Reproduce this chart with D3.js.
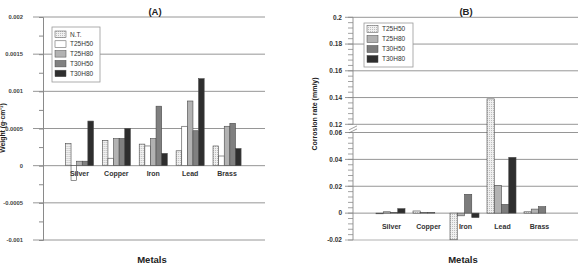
<!DOCTYPE html>
<html>
<head>
<meta charset="utf-8">
<script src="https://cdn.jsdelivr.net/npm/d3@7"></script>
<style>
  body { margin: 0; background: #fff; }
  svg { display: block; font-family: "Liberation Sans", Arial, sans-serif; }
</style>
</head>
<body>
<div id="chart"></div>
<script>
// DATA
const metals = ["Silver", "Copper", "Iron", "Lead", "Brass"];

// panel A: weight change
const seriesA = ["N.T.", "T25H50", "T25H80", "T30H50", "T30H80"];
const ntA     = [0.0003, 0.00034, 0.00029, 0.0002, 0.000265];
const t25h50A = [-0.0002, 0.0001, 0.000265, 0.00053, 0.00013];
const t25h80A = [0.00006, 0.000365, 0.000365, 0.00087, 0.00053];
const t30h50A = [0.00006, 0.000365, 0.0008, 0.00047, 0.00057];
const t30h80A = [0.0006, 0.0005, 0.000165, 0.00117, 0.00023];
const ticksA = [-0.001, -0.0005, 0, 0.0005, 0.001, 0.0015, 0.002];

// panel B: corrosion rate
const seriesB = ["T25H50", "T25H80", "T30H50", "T30H80"];
const t25h50B = [-0.0005, 0.0016, -0.0198, 0.139, 0.001];
const t25h80B = [0.001, 0.0004, -0.002, 0.0207, 0.003];
const t30h50B = [0.0005, 0.0005, 0.014, 0.0065, 0.0048];
const t30h80B = [0.0033, 0, -0.0033, 0.0415, 0];
const ticksBLow = [-0.02, 0, 0.02, 0.04, 0.06];
const ticksBHigh = [0.12, 0.14, 0.16, 0.18, 0.2];

const width = 578;
const height = 263;
const gridColor = "#8a8a8a";
const barStroke = "#4a4a4a";

const fillsA = ["url(#dots)", "#ffffff", "#b2b2b2", "#808080", "#2e2e2e"];
const fillsB = ["url(#dots)", "#b2b2b2", "#7c7c7c", "#2e2e2e"];

const svg = d3.select("#chart")
  .append("svg")
  .attr("width", width)
  .attr("height", height);

// dotted fill for the lightest series
const pat = svg.append("defs").append("pattern")
  .attr("id", "dots")
  .attr("width", 2).attr("height", 2)
  .attr("patternUnits", "userSpaceOnUse");
pat.append("rect").attr("width", 2).attr("height", 2).attr("fill", "#f0f0f0");
pat.append("rect").attr("width", 1).attr("height", 1).attr("fill", "#bdbdbd");

const rows = (cols) => metals.map((m, i) => ({ metal: m, values: cols.map((c) => c[i]) }));

// ---------- PANEL A ----------
const a = { left: 43, right: 265 };
const yA = d3.scaleLinear().domain([-0.001, 0.002]).range([240, 17]);
const xA = d3.scaleBand().domain(metals).range([61, 245.5]).paddingInner(0.24).paddingOuter(0.12);
const xA1 = d3.scaleBand().domain(seriesA).range([0, xA.bandwidth()]);

const gA = svg.append("g");

// gridlines
gA.selectAll(".gridA")
  .data(ticksA)
  .enter()
  .append("line")
  .attr("x1", a.left - 10)
  .attr("x2", a.right)
  .attr("y1", (d) => yA(d))
  .attr("y2", (d) => yA(d))
  .attr("stroke", gridColor)
  .attr("stroke-width", 0.9);

// left axis with minor ticks
const axisA = d3.axisLeft(yA)
  .tickValues(d3.range(-0.001, 0.00201, 0.00025))
  .tickSize(4)
  .tickFormat("");
gA.append("g")
  .attr("transform", `translate(${a.left},0)`)
  .call(axisA)
  .call((g) => g.select(".domain").attr("stroke", gridColor))
  .call((g) => g.selectAll(".tick line").attr("stroke", gridColor));

gA.selectAll(".tickA")
  .data(ticksA)
  .enter()
  .append("text")
  .attr("x", 23)
  .attr("y", (d) => yA(d))
  .attr("dy", "0.35em")
  .attr("text-anchor", "end")
  .style("font-size", "5.8px")
  .style("font-weight", "bold")
  .attr("fill", "#444")
  .text((d) => (d === 0 ? "0" : String(+d.toFixed(4))));

// bars
const groupsA = gA.selectAll(".grpA")
  .data(rows([ntA, t25h50A, t25h80A, t30h50A, t30h80A]))
  .enter()
  .append("g")
  .attr("transform", (d) => `translate(${xA(d.metal)},0)`);

groupsA.selectAll("rect")
  .data((d) => d.values.map((v, i) => ({ key: seriesA[i], value: v, i: i })))
  .enter()
  .append("rect")
  .attr("x", (d) => xA1(d.key))
  .attr("width", xA1.bandwidth())
  .attr("y", (d) => yA(Math.max(0, d.value)))
  .attr("height", (d) => Math.abs(yA(d.value) - yA(0)))
  .attr("fill", (d) => fillsA[d.i])
  .attr("stroke", barStroke)
  .attr("stroke-width", 0.6);

gA.selectAll(".catA")
  .data(metals)
  .enter()
  .append("text")
  .attr("x", (d) => xA(d) + xA.bandwidth() / 2)
  .attr("y", yA(0) + 10)
  .attr("text-anchor", "middle")
  .style("font-size", "7px")
  .style("font-weight", "bold")
  .attr("fill", "#333")
  .text((d) => d);

// legend A
const legA = gA.append("g").attr("transform", "translate(52,27)");
legA.append("rect")
  .attr("width", 48).attr("height", 55)
  .attr("fill", "#fff").attr("stroke", "#999").attr("stroke-width", 0.8);
seriesA.forEach((s, i) => {
  legA.append("rect")
    .attr("x", 3).attr("y", 4 + i * 9.8)
    .attr("width", 11).attr("height", 6.5)
    .attr("fill", fillsA[i]).attr("stroke", barStroke).attr("stroke-width", 0.5);
  legA.append("text")
    .attr("x", 18).attr("y", 7.3 + i * 9.8)
    .attr("dy", "0.35em")
    .style("font-size", "6.5px")
    .attr("fill", "#333")
    .text(s);
});

gA.append("text")
  .attr("x", 155).attr("y", 15)
  .attr("text-anchor", "middle")
  .style("font-size", "9.5px").style("font-weight", "bold")
  .attr("fill", "#222")
  .text("(A)");

gA.append("text")
  .attr("x", 152).attr("y", 262.5)
  .attr("text-anchor", "middle")
  .style("font-size", "9.5px").style("font-weight", "bold")
  .attr("fill", "#222")
  .text("Metals");

gA.append("text")
  .attr("transform", "translate(5,128) rotate(-90)")
  .attr("text-anchor", "middle")
  .style("font-size", "6.8px").style("font-weight", "bold")
  .attr("fill", "#222")
  .text("Weight (g·cm⁻²)");

// ---------- PANEL B ----------
const b = { left: 353, right: 578 };
// broken axis: lower piece -0.02..0.06, upper piece 0.12..0.2
const yB = d3.scaleLinear()
  .domain([-0.02, 0.06, 0.12, 0.2])
  .range([240, 132.5, 124.3, 17.3]);
const xB = d3.scaleBand().domain(metals).range([372, 557]).paddingInner(0.216).paddingOuter(0.108);
const xB1 = d3.scaleBand().domain(seriesB).range([0, xB.bandwidth()]);

const gB = svg.append("g");
const allTicksB = ticksBLow.concat(ticksBHigh);

gB.selectAll(".gridB")
  .data(allTicksB)
  .enter()
  .append("line")
  .attr("x1", b.left - 8)
  .attr("x2", b.right)
  .attr("y1", (d) => yB(d))
  .attr("y2", (d) => yB(d))
  .attr("stroke", (d) => (d === -0.02 ? "#a8a8a8" : gridColor))
  .attr("stroke-width", 0.9);

const minorLow = d3.range(-0.02, 0.0601, 0.004);
const minorHigh = d3.range(0.12, 0.2001, 0.004);
gB.selectAll(".minorB")
  .data(minorLow.concat(minorHigh))
  .enter()
  .append("line")
  .attr("x1", b.left - 5)
  .attr("x2", b.left)
  .attr("y1", (d) => yB(d))
  .attr("y2", (d) => yB(d))
  .attr("stroke", gridColor)
  .attr("stroke-width", 0.8);

// axis line in two pieces with break marks
[[-0.02, 0.06], [0.12, 0.2]].forEach((seg) => {
  gB.append("line")
    .attr("x1", b.left).attr("x2", b.left)
    .attr("y1", yB(seg[0])).attr("y2", yB(seg[1]))
    .attr("stroke", gridColor).attr("stroke-width", 0.9);
});
[0, 3].forEach((off) => {
  gB.append("line")
    .attr("x1", b.left - 4).attr("x2", b.left + 4)
    .attr("y1", yB(0.09) + off + 1.5).attr("y2", yB(0.09) + off - 2.5)
    .attr("stroke", "#777").attr("stroke-width", 0.7);
});

gB.selectAll(".tickB")
  .data(allTicksB)
  .enter()
  .append("text")
  .attr("x", 342)
  .attr("y", (d) => yB(d))
  .attr("dy", "0.35em")
  .attr("text-anchor", "end")
  .style("font-size", "6.5px")
  .style("font-weight", "bold")
  .attr("fill", "#333")
  .text((d) => (d === 0 ? "0" : String(+d.toFixed(2))));

const groupsB = gB.selectAll(".grpB")
  .data(rows([t25h50B, t25h80B, t30h50B, t30h80B]))
  .enter()
  .append("g")
  .attr("transform", (d) => `translate(${xB(d.metal)},0)`);

groupsB.selectAll("rect")
  .data((d) => d.values.map((v, i) => ({ key: seriesB[i], value: v, i: i })).filter((d) => d.value !== 0))
  .enter()
  .append("rect")
  .attr("x", (d) => xB1(d.key))
  .attr("width", xB1.bandwidth())
  .attr("y", (d) => yB(Math.max(0, d.value)))
  .attr("height", (d) => Math.abs(yB(d.value) - yB(0)))
  .attr("fill", (d) => fillsB[d.i])
  .attr("stroke", barStroke)
  .attr("stroke-width", 0.6);

gB.selectAll(".catB")
  .data(metals)
  .enter()
  .append("text")
  .attr("x", (d) => xB(d) + xB.bandwidth() / 2 + 1)
  .attr("y", yB(0) + 16)
  .attr("text-anchor", "middle")
  .style("font-size", "7px")
  .style("font-weight", "bold")
  .attr("fill", "#333")
  .text((d) => d);

// legend B
const legB = gB.append("g").attr("transform", "translate(364,23)");
legB.append("rect")
  .attr("width", 49).attr("height", 44)
  .attr("fill", "#fff").attr("stroke", "#999").attr("stroke-width", 0.8);
seriesB.forEach((s, i) => {
  legB.append("rect")
    .attr("x", 3).attr("y", 2.5 + i * 10)
    .attr("width", 11).attr("height", 7)
    .attr("fill", fillsB[i]).attr("stroke", barStroke).attr("stroke-width", 0.5);
  legB.append("text")
    .attr("x", 18).attr("y", 6 + i * 10)
    .attr("dy", "0.35em")
    .style("font-size", "6.5px")
    .attr("fill", "#333")
    .text(s);
});

gB.append("text")
  .attr("x", 466).attr("y", 15)
  .attr("text-anchor", "middle")
  .style("font-size", "9.5px").style("font-weight", "bold")
  .attr("fill", "#222")
  .text("(B)");

gB.append("text")
  .attr("x", 463).attr("y", 262.5)
  .attr("text-anchor", "middle")
  .style("font-size", "9.5px").style("font-weight", "bold")
  .attr("fill", "#222")
  .text("Metals");

gB.append("text")
  .attr("transform", "translate(317,114) rotate(-90)")
  .attr("text-anchor", "middle")
  .style("font-size", "7px").style("font-weight", "bold")
  .attr("fill", "#222")
  .text("Corrosion rate (mm/y)");
</script>
</body>
</html>
